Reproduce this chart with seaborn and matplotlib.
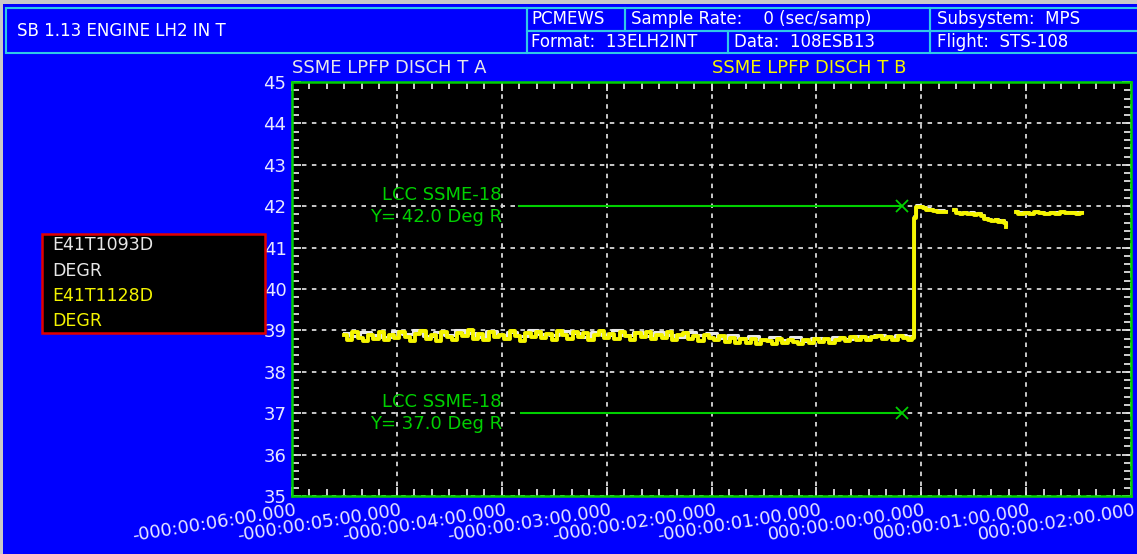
"""
SB 1.13 Engine LH2 In T - SSME LPFP discharge temperature strip chart
"""
import numpy as np
import pandas as pd
import matplotlib
matplotlib.use('Agg')
import matplotlib.pyplot as plt
import matplotlib.transforms as mtransforms
from matplotlib.patches import Rectangle
from matplotlib.ticker import MultipleLocator
import seaborn as sns

# ---- data (time in seconds relative to T0, temperature in deg R) ----
# series B (yellow, E41T1128D), sampled every 3 s before the step
t_pre_b = np.arange(-330, -5, 3)
b_pre = [38.88, 38.78, 38.95, 38.82, 38.74, 38.90, 38.80, 38.97, 38.76, 38.89, 38.81,
         38.96, 38.84, 38.75, 38.92, 38.99, 38.80, 38.90, 38.74, 38.97, 38.85,
         38.78, 38.94, 38.87, 39.00, 38.79, 38.91, 38.76, 38.96, 38.83, 38.90,
         38.80, 38.98, 38.86, 38.75, 38.94, 38.84, 38.97, 38.81, 38.92, 38.77,
         38.99, 38.88, 38.79, 38.95, 38.84, 38.93, 38.76, 38.90, 38.98, 38.82,
         38.92, 38.80, 38.96, 38.86, 38.77, 38.94, 38.83, 38.97, 38.79, 38.90,
         38.82, 38.95, 38.76, 38.88, 38.93, 38.79, 38.86, 38.74, 38.90, 38.81,
         38.78, 38.86, 38.72, 38.82, 38.70, 38.80, 38.69, 38.79, 38.68, 38.78,
         38.74, 38.67, 38.79, 38.69, 38.78, 38.72, 38.66, 38.76, 38.70, 38.79,
         38.72, 38.80, 38.70, 38.78, 38.82, 38.74, 38.84, 38.78, 38.85, 38.76,
         38.83, 38.87, 38.79, 38.85, 38.77, 38.86, 38.82, 38.78]
t_step = [-4.5, -3.5, -2.0, 0, 2, 4, 6, 8, 10, 12, 14]
b_step = [38.82, 41.72, 41.98, 41.97, 41.95, 41.92, 41.90, 41.89, 41.86, 41.87, 41.85]
t_seg2 = [19, 21, 23, 25, 27, 29, 31, 33, 35, 37, 39, 41, 43, 45, 47, 48, 48.6]
b_seg2 = [41.90, 41.84, 41.81, 41.83, 41.80, 41.82, 41.79, 41.81, 41.76, 41.68,
          41.66, 41.64, 41.66, 41.63, 41.64, 41.60, 41.50]
t_seg3 = [54, 57, 60, 63, 66, 69, 72, 75, 78, 81, 84, 87, 90, 92]
b_seg3 = [41.87, 41.82, 41.84, 41.81, 41.85, 41.83, 41.81, 41.84, 41.82, 41.85,
          41.83, 41.84, 41.82, 41.84]

# series A (white, E41T1093D), mostly hidden under B
t_pre_a = np.arange(-330, -5, 6)
a_pre = [38.94, 38.86, 38.97, 38.90, 38.84, 38.99, 38.91, 39.00, 38.87, 38.95,
         38.89, 39.01, 38.93, 38.85, 38.98, 38.90, 38.96, 38.86, 39.00, 38.92,
         38.88, 38.99, 38.94, 38.85, 38.97, 38.90, 39.00, 38.88, 38.95, 38.86,
         38.97, 38.90, 38.84, 38.96, 38.88, 38.93, 38.82, 38.90, 38.81, 38.87,
         38.78, 38.85, 38.76, 38.83, 38.75, 38.82, 38.79, 38.85, 38.80, 38.87,
         38.83, 38.89, 38.85, 38.90, 38.86]
a_step = [38.86, 41.76, 42.02, 42.01, 41.99, 41.96, 41.93, 41.92, 41.90, 41.90, 41.88]
a_seg2 = [41.94, 41.87, 41.84, 41.85, 41.83, 41.85, 41.82, 41.84, 41.79, 41.71,
          41.69, 41.67, 41.69, 41.66, 41.67, 41.63, 41.54]
a_seg3 = [41.89, 41.85, 41.86, 41.84, 41.87, 41.85, 41.84, 41.86, 41.85, 41.87,
          41.85, 41.86, 41.85, 41.86]

# LCC SSME-18 limits
lcc_hi_t = [-230, -11]
lcc_lo_t = [-229, -11]
lcc_hi = 42.0
lcc_lo = 37.0

x_ticks = [-360, -300, -240, -180, -120, -60, 0, 60, 120]
x_labels = ['-000:00:06:00.000', '-000:00:05:00.000', '-000:00:04:00.000',
            '-000:00:03:00.000', '-000:00:02:00.000', '-000:00:01:00.000',
            '000:00:00:00.000', '000:00:01:00.000', '000:00:02:00.000']
y_ticks = [35, 36, 37, 38, 39, 40, 41, 42, 43, 44, 45]


def segments(parts):
    rows = []
    for seg, (ts, vs) in enumerate(parts):
        for t, v in zip(ts, vs):
            rows.append({'t': t, 'val': v, 'seg': seg})
    return pd.DataFrame(rows)


df_a = segments([(list(t_pre_a) + t_step, a_pre + a_step), (t_seg2, a_seg2), (t_seg3, a_seg3)])
df_b = segments([(list(t_pre_b) + t_step, b_pre + b_step), (t_seg2, b_seg2), (t_seg3, b_seg3)])

# ---- figure ----
W, H = 1137, 554
BLUE = '#0000FF'
CYAN = '#30C8E8'
GREEN = '#00D000'
YELLOW = '#F5F500'
WHITE = '#E8E8E8'
LABEL = '#E8E8FF'

plt.rcParams['font.family'] = ['DejaVu Sans']
fig = plt.figure(figsize=(W / 100, H / 100), dpi=100, facecolor=BLUE)


def px_box(x0, y0, x1, y1, **kw):
    fig.add_artist(Rectangle((x0 / W, 1 - y1 / H), (x1 - x0) / W, (y1 - y0) / H,
                             transform=fig.transFigure, **kw))


def px_text(x, y, s, **kw):
    fig.text(x / W, 1 - y / H, s, **kw)


# window frame
px_box(0, 0, W, 4, facecolor='#C8C8C8', edgecolor='none')
px_box(0, 0, 3, H, facecolor='#C8C8C8', edgecolor='none')

# header table
cell = dict(facecolor='none', edgecolor=CYAN, linewidth=1.5)
px_box(6, 8, 527, 53, **cell)
px_box(527, 8, 625, 31, **cell)
px_box(625, 8, 930, 31, **cell)
px_box(930, 8, 1140, 31, **cell)
px_box(527, 31, 728, 53, **cell)
px_box(728, 31, 930, 53, **cell)
px_box(930, 31, 1140, 53, **cell)
hdr = dict(color='white', fontsize=12, va='center', ha='left')
px_text(17, 31, 'SB 1.13 ENGINE LH2 IN T', **hdr)
px_text(531, 19, 'PCMEWS', **hdr)
px_text(631, 19, 'Sample Rate:    0 (sec/samp)', **hdr)
px_text(937, 19, 'Subsystem:  MPS', **hdr)
px_text(531, 42, 'Format:  13ELH2INT', **hdr)
px_text(734, 42, 'Data:  108ESB13', **hdr)
px_text(937, 42, 'Flight:  STS-108', **hdr)

# series titles
px_text(292, 68, 'SSME LPFP DISCH T A', color=WHITE, fontsize=13, va='center')
px_text(712, 68, 'SSME LPFP DISCH T B', color=YELLOW, fontsize=13, va='center')

# plot area
ax = fig.add_axes([292 / W, 1 - 496 / H, (1131 - 292) / W, (496 - 82) / H])
ax.set_facecolor('black')

sns.lineplot(data=df_a, x='t', y='val', units='seg', estimator=None,
             color=WHITE, linewidth=2.2, drawstyle='steps-mid', ax=ax)
sns.lineplot(data=df_b, x='t', y='val', units='seg', estimator=None,
             color=YELLOW, linewidth=2.8, drawstyle='steps-mid', ax=ax)

# limit lines
ax.plot(lcc_hi_t, [lcc_hi, lcc_hi], color=GREEN, linewidth=1.5)
ax.plot(lcc_lo_t, [lcc_lo, lcc_lo], color=GREEN, linewidth=1.5)
ax.plot([lcc_hi_t[-1]], [lcc_hi], marker='x', color=GREEN, markersize=8, mew=1.3)
ax.plot([lcc_lo_t[-1]], [lcc_lo], marker='x', color=GREEN, markersize=8, mew=1.3)
for y in (lcc_hi, lcc_lo):
    ax.text(-240, y + 0.27, 'LCC SSME-18', color=GREEN, fontsize=13, ha='right', va='center')
    ax.text(-240, y - 0.27, f'Y= {y:.1f} Deg R', color=GREEN, fontsize=13, ha='right', va='center')

ax.set_xlim(-360, 120)
ax.set_ylim(35, 45)
ax.set_xlabel('')
ax.set_ylabel('')
ax.set_xticks(x_ticks)
ax.set_xticklabels(x_labels)
ax.set_yticks(y_ticks)
ax.set_yticklabels([str(v) for v in y_ticks])
ax.xaxis.set_minor_locator(MultipleLocator(10))
ax.yaxis.set_minor_locator(MultipleLocator(0.2))
ax.grid(True, which='major', color='#D8D8D8', linestyle=(0, (2.5, 3)), linewidth=1.3)
ax.tick_params(which='both', direction='in', top=True, right=True,
               color='#E0E0E0', width=1.3)
ax.tick_params(which='major', length=6.5)
ax.tick_params(which='minor', length=5)
ax.tick_params(axis='y', labelcolor=LABEL, labelsize=13, pad=4)
ax.tick_params(axis='x', labelcolor=LABEL, labelsize=13, pad=4)
shift = mtransforms.ScaledTranslation(3 / 100, 0, fig.dpi_scale_trans)
for lab in ax.get_xticklabels():
    lab.set_rotation(9)
    lab.set_ha('right')
    lab.set_va('top')
    lab.set_rotation_mode('anchor')
    lab.set_transform(lab.get_transform() + shift)
for sp in ax.spines.values():
    sp.set_color(GREEN)
    sp.set_linewidth(1.8)

# channel legend box
px_box(42, 234, 265, 333, facecolor='black', edgecolor='#E00000', linewidth=1.8)
leg = [('E41T1093D', WHITE), ('DEGR', WHITE), ('E41T1128D', YELLOW), ('DEGR', YELLOW)]
for i, (s, c) in enumerate(leg):
    px_text(52, 245 + i * 25.5, s, color=c, fontsize=12.5, va='center')

fig.savefig('out.png', dpi=100, facecolor=fig.get_facecolor())
